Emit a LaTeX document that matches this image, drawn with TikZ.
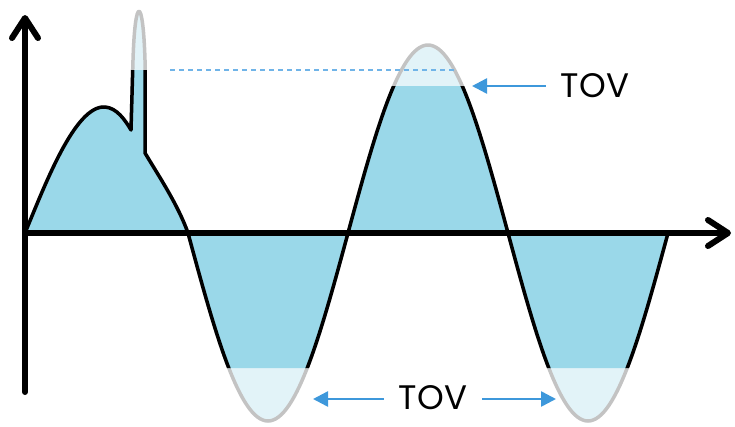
\documentclass[tikz,border=0pt]{standalone}
\usepackage{fontspec}
\setmainfont{Poppins}
\usetikzlibrary{arrows.meta}
\definecolor{tovfill}{HTML}{9AD8E9}
\definecolor{tovpale}{HTML}{E2F3F8}
\definecolor{tovgrey}{HTML}{C3C3C3}
\definecolor{tovblue}{HTML}{3E98DB}
\definecolor{tovdash}{HTML}{70B4E8}
\newcommand{\tovwave}{(25,233) .. controls (45,185) and (75,105) .. (105,107)
  .. controls (117,108) and (125,120) .. (131,130) -- (133,60)
  .. controls (135,-5) and (143,-5) .. (145,60) -- (145,153)
  .. controls (160,178) and (178,205) .. (188,233)
  .. controls (214.1,329.3) and (239.05,421) .. (268,421)
  .. controls (296.95,421) and (321.9,329.3) .. (348,233)
  .. controls (374.1,136.7) and (399.05,45) .. (428,45)
  .. controls (456.95,45) and (481.9,136.7) .. (508,233)
  .. controls (534.1,329.3) and (559.05,421) .. (588,421)
  .. controls (616.95,421) and (641.9,329.3) .. (668,233)}
\begin{document}
\begin{tikzpicture}[x=1pt,y=-1pt,
                    axis/.style={line width=6pt,line cap=round,
                      -{Straight Barb[length=20pt,width=26pt,line cap=round,line join=round]}},
                    wave/.style={line width=3.5pt,line join=round},
                    tovarrow/.style={tovblue,line width=2.5pt,-{Triangle[length=15pt,width=15pt]}},
                    tovlabel/.style={inner xsep=15pt,inner ysep=0pt,font=\fontsize{34}{40}\selectfont}]
 \useasboundingbox (0,0) rectangle (735,426);
 \fill[tovpale] \tovwave -- cycle;
 \draw[wave,tovgrey] \tovwave;
 \begin{scope}
  \clip (0,86) -- (120,86) -- (120,70) -- (160,70) -- (160,86) -- (735,86)
        -- (735,368) -- (0,368) -- cycle;
  \fill[tovfill] \tovwave -- cycle;
  \draw[wave] \tovwave;
 \end{scope}
 \coordinate (o) at (25,233);
 \coordinate (ybot) at (25,392); \coordinate (ytop) at (25,15);
 \coordinate (xend) at (731,233);
 \draw[axis] (ybot) -- (ytop);
 \draw[axis] (o) -- (xend);
 \coordinate (dashl) at (170,70); \coordinate (dashr) at (455,70);
 \draw[tovdash,line width=1.3pt,dash pattern=on 5pt off 4pt] (dashl) -- (dashr);
 \node[tovlabel] (tovtop) at (595,86) {TOV};
 \node[tovlabel] (tovbot) at (433,398) {TOV};
 \coordinate (peaktip) at (472,86);
 \coordinate (troughl) at (313,399); \coordinate (troughr) at (556,399);
 \draw[tovarrow] (tovtop.west) -- (peaktip);
 \draw[tovarrow] (tovbot.west|-troughl) -- (troughl);
 \draw[tovarrow] (tovbot.east|-troughr) -- (troughr);
\end{tikzpicture}
\end{document}
